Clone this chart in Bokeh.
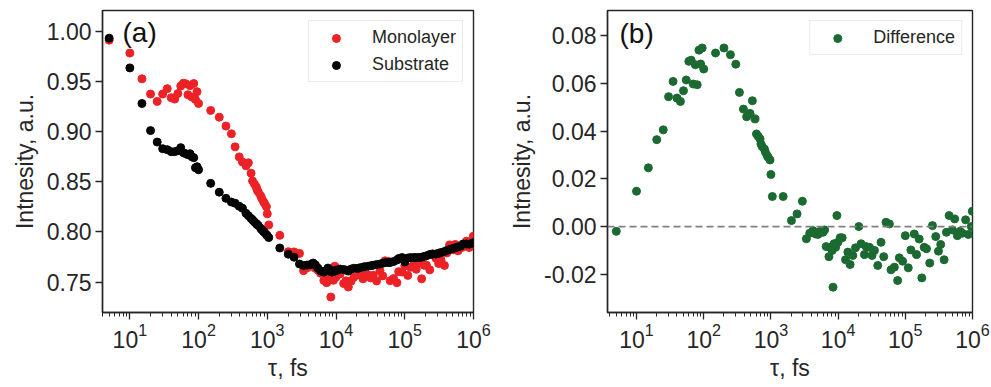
from bokeh.plotting import figure
from bokeh.layouts import row
from bokeh.models import ColumnDataSource, FixedTicker, NumeralTickFormatter, Span, Label, Range1d
from bokeh.embed import file_html
from bokeh.resources import INLINE

# ---------------- data ----------------
delay_fs = [5, 10, 15, 20, 25, 30, 35, 40, 45, 50, 55, 60, 65, 70, 75, 80, 85, 90, 95, 100,
            150, 200, 250, 300, 340, 390, 435, 490, 530, 580, 610, 650, 690, 710, 740, 800,
            830, 880, 910, 970, 1000, 1050,
            1520, 2020, 2450, 2940, 3370, 3780, 4230, 4640, 5020, 5430,
            5950, 6300, 6650, 7300, 7630, 8170, 8400, 8700, 9180, 9600,
            9930, 10740, 11500, 12900, 13970, 15100, 16560, 18160, 20330, 21980,
            24700, 26090, 29300, 32000, 34740, 38900, 43550, 47750, 51630, 57960,
            61240, 68720, 76900, 81500, 91200, 100000, 110700, 121000, 135900, 146900,
            161000, 176000, 191000, 206600, 231200, 253500, 283800, 311000, 336500, 378000,
            409000, 448500, 502000, 543000, 595000, 653000, 706000, 790000, 866000, 960000, 993000]

monolayer = [0.9911, 0.9783, 0.9526, 0.9374, 0.9301, 0.9374, 0.9428, 0.9338, 0.9324, 0.9379,
             0.9454, 0.9482, 0.9477, 0.9367, 0.9458, 0.9344, 0.9479, 0.9321, 0.9398, 0.9280,
             0.9211, 0.9144, 0.9055, 0.8978, 0.8848, 0.8748, 0.8696, 0.8659, 0.8689, 0.8586,
             0.8508, 0.8477, 0.8450, 0.8421, 0.8398, 0.8361, 0.8334, 0.8302, 0.8285, 0.8252,
             0.8180, 0.8070,
             0.7966, 0.7803, 0.7801, 0.7786, 0.7614, 0.7642, 0.7658, 0.7659, 0.7637, 0.7620,
             0.7589, 0.7591, 0.7516, 0.7494, 0.7553, 0.7520, 0.7351, 0.7528, 0.7518, 0.7658,
             0.7549, 0.7575, 0.7583, 0.7486, 0.7513, 0.7451, 0.7509, 0.7549, 0.7635, 0.7570,
             0.7533, 0.7569, 0.7571, 0.7542, 0.7568, 0.7512, 0.7614, 0.7562, 0.7712, 0.7706,
             0.7514, 0.7535, 0.7494, 0.7604, 0.7600, 0.7662, 0.7567, 0.7647, 0.7714, 0.7628,
             0.7693, 0.7533, 0.7668, 0.7669, 0.7622, 0.7782, 0.7738, 0.7685, 0.7720, 0.7666,
             0.7791, 0.7871, 0.7821, 0.7875, 0.7812, 0.7840, 0.7852, 0.7908, 0.7845, 0.7888, 0.7957]

substrate = [0.9931, 0.9635, 0.9280, 0.9010, 0.8896, 0.8830, 0.8820, 0.8800, 0.8800, 0.8810,
             0.8840, 0.8790, 0.8780, 0.8770, 0.8780, 0.8750, 0.8740, 0.8640, 0.8650, 0.8620,
             0.8484, 0.8396, 0.8335, 0.8298, 0.8286, 0.8256, 0.8236, 0.8185, 0.8162, 0.8135,
             0.8120, 0.8100, 0.8083, 0.8075, 0.8063, 0.8036, 0.8023, 0.8005, 0.7995, 0.7973,
             0.7962, 0.7944,
             0.7840, 0.7778, 0.7748, 0.7680, 0.7665, 0.7670, 0.7675, 0.7690, 0.7670, 0.7640,
             0.7613, 0.7605, 0.7600, 0.7620, 0.7640, 0.7620, 0.7605, 0.7600, 0.7605, 0.7612,
             0.7615, 0.7622, 0.7630, 0.7625, 0.7620, 0.7610, 0.7630, 0.7638, 0.7635, 0.7642,
             0.7650, 0.7653, 0.7658, 0.7663, 0.7668, 0.7675, 0.7680, 0.7688, 0.7694, 0.7695,
             0.7695, 0.7705, 0.7720, 0.7735, 0.7745, 0.7700, 0.7740, 0.7745, 0.7745, 0.7745,
             0.7745, 0.7748, 0.7755, 0.7762, 0.7775, 0.7778, 0.7780, 0.7788, 0.7795, 0.7805,
             0.7815, 0.7825, 0.7835, 0.7843, 0.7850, 0.7860, 0.7880, 0.7880, 0.7878, 0.7888, 0.7893]

difference = [-0.0020, 0.0148, 0.0246, 0.0364, 0.0405, 0.0544, 0.0608, 0.0538, 0.0524, 0.0569,
              0.0614, 0.0692, 0.0697, 0.0597, 0.0678, 0.0594, 0.0739, 0.0681, 0.0748, 0.0660,
              0.0727, 0.0748, 0.0720, 0.0680, 0.0562, 0.0492, 0.0460, 0.0474, 0.0527, 0.0451,
              0.0388, 0.0377, 0.0367, 0.0346, 0.0335, 0.0325, 0.0311, 0.0297, 0.0290, 0.0279,
              0.0218, 0.0126,
              0.0126, 0.0025, 0.0053, 0.0106, -0.0051, -0.0028, -0.0017, -0.0031, -0.0033, -0.0020,
              -0.0024, -0.0014, -0.0084, -0.0126, -0.0087, -0.0100, -0.0254, -0.0072, -0.0087, 0.0046,
              -0.0066, -0.0047, -0.0047, -0.0139, -0.0107, -0.0159, -0.0121, -0.0089, 0.0000, -0.0072,
              -0.0117, -0.0084, -0.0087, -0.0121, -0.0100, -0.0163, -0.0066, -0.0126, 0.0018, 0.0011,
              -0.0181, -0.0170, -0.0226, -0.0131, -0.0145, -0.0038, -0.0173, -0.0098, -0.0031, -0.0117,
              -0.0052, -0.0215, -0.0087, -0.0093, -0.0153, 0.0004, -0.0042, -0.0103, -0.0075, -0.0139,
              -0.0024, 0.0046, -0.0014, 0.0032, -0.0038, -0.0020, -0.0028, 0.0028, -0.0033, 0.0000, 0.0064]

y_ticks_a = [0.75, 0.80, 0.85, 0.90, 0.95, 1.00]
y_ticks_b = [-0.02, 0.00, 0.02, 0.04, 0.06, 0.08]
x_major = [1e1, 1e2, 1e3, 1e4, 1e5, 1e6]
x_minor = [m * 10 ** e for e in range(0, 6) for m in range(2, 10)]

# ---------------- style ----------------
FONT = "Liberation Sans"
INK = "#262626"
RED = "#ec2226"
BLACK = "#050505"
GREEN = "#1b6a31"

src = ColumnDataSource(dict(t=delay_fs, mono=monolayer, sub=substrate, diff=difference))


def style(p, yticks):
    p.xgrid.visible = False
    p.ygrid.visible = False
    p.outline_line_color = INK
    p.outline_line_width = 1.4
    p.background_fill_color = "white"
    p.border_fill_color = "white"
    for ax in (p.xaxis[0], p.yaxis[0]):
        ax.axis_line_color = INK
        ax.axis_line_width = 1.4
        ax.major_tick_line_color = INK
        ax.minor_tick_line_color = INK
        ax.major_tick_line_width = 1.3
        ax.minor_tick_line_width = 1.0
        ax.major_tick_in = 0
        ax.major_tick_out = 7
        ax.minor_tick_in = 0
        ax.minor_tick_out = 4
        ax.major_label_text_font = FONT
        ax.major_label_text_font_size = "23px"
        ax.major_label_text_color = INK
        ax.axis_label_text_font = FONT
        ax.axis_label_text_font_size = "23px"
        ax.axis_label_text_font_style = "normal"
        ax.axis_label_text_color = INK
    p.xaxis.ticker = FixedTicker(ticks=x_major, minor_ticks=x_minor)
    p.xaxis.major_label_standoff = 3
    p.xaxis.axis_label_standoff = 4
    p.xaxis.axis_label = "τ, fs"
    p.yaxis.ticker = FixedTicker(ticks=yticks)
    p.yaxis.formatter = NumeralTickFormatter(format="0.00")
    p.yaxis.major_label_standoff = 4
    p.yaxis.axis_label_standoff = 6
    p.yaxis.axis_label = "Intnesity, a.u."


def style_legend(p):
    lg = p.legend[0]
    lg.location = "top_right"
    lg.margin = 10
    lg.padding = 6
    lg.spacing = 6
    lg.glyph_width = 42
    lg.glyph_height = 20
    lg.label_height = 20
    lg.label_standoff = 15
    lg.label_text_font = FONT
    lg.label_text_font_size = "18px"
    lg.label_text_color = INK
    lg.border_line_color = "#d6d6d6"
    lg.border_line_width = 1
    lg.background_fill_alpha = 0.85


# ---------------- panel (a) ----------------
p1 = figure(width=500, height=387, x_axis_type="log",
            x_range=Range1d(4.0, 1e6), y_range=Range1d(0.7197, 1.0207),
            output_backend="svg", toolbar_location=None,
            min_border_left=102, min_border_right=27, min_border_top=7, min_border_bottom=74)
p1.scatter("t", "mono", source=src, size=8, color=RED, legend_label="Monolayer")
p1.scatter("t", "sub", source=src, size=8, color=BLACK, legend_label="Substrate")
style(p1, y_ticks_a)
style_legend(p1)
p1.add_layout(Label(x=20, y=296, x_units="screen", y_units="screen", text="(a)",
                    text_font=FONT, text_font_size="28px", text_baseline="top", text_color="#111111"))

# ---------------- panel (b) ----------------
p2 = figure(width=491, height=387, x_axis_type="log",
            x_range=Range1d(3.7, 1e6), y_range=Range1d(-0.036, 0.0905),
            output_backend="svg", toolbar_location=None,
            min_border_left=107, min_border_right=19, min_border_top=10, min_border_bottom=75)
p2.add_layout(Span(location=0, dimension="width", line_color="#808080",
                   line_dash="7 4", line_width=1.8))
p2.scatter("t", "diff", source=src, size=8, color=GREEN, legend_label="Difference")
style(p2, y_ticks_b)
style_legend(p2)
p2.add_layout(Label(x=12, y=295, x_units="screen", y_units="screen", text="(b)",
                    text_font=FONT, text_font_size="28px", text_baseline="top", text_color="#111111"))

layout = row(p1, p2, spacing=0)
open("out.html", "w").write(file_html(layout, INLINE))
